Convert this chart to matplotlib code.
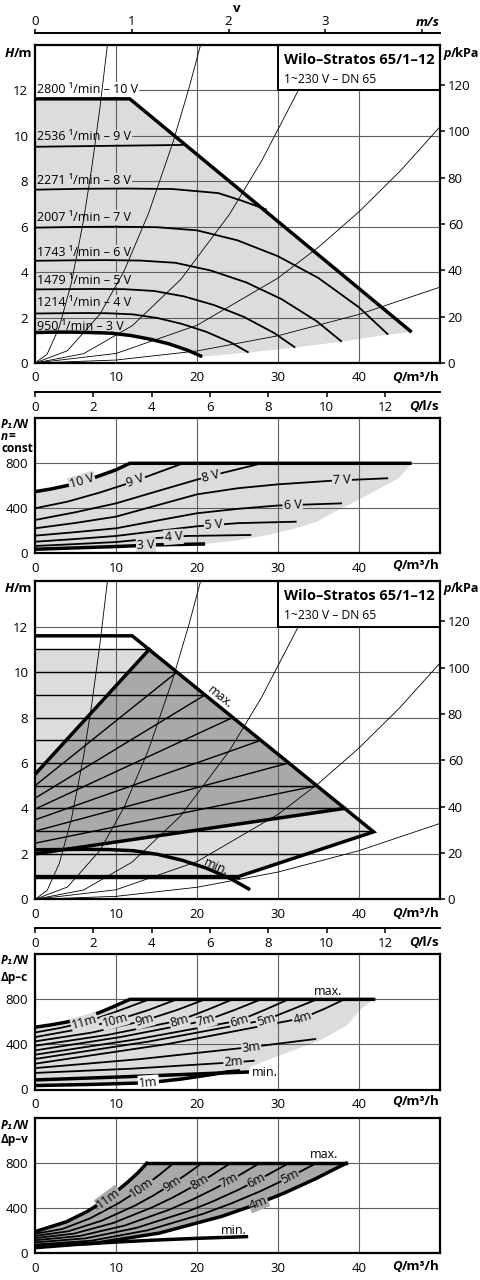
import matplotlib
matplotlib.use("Agg")
import matplotlib.pyplot as plt
import numpy as np
from matplotlib.patches import Polygon, Rectangle

plt.rcParams["font.family"] = ["Open Sans", "DejaVu Sans"]

# ---------------- panel 1: H/m at constant speed (Q in m3/h)
speed_names = ["2800 ¹/min – 10 V", "2536 ¹/min – 9 V", "2271 ¹/min – 8 V", "2007 ¹/min – 7 V",
               "1743 ¹/min – 6 V", "1479 ¹/min – 5 V", "1214 ¹/min – 4 V", "950 ¹/min – 3 V"]
speed_label_h = [12.05, 9.95, 8.02, 6.4, 4.85, 3.65, 2.68, 1.6]

q10 = [0, 11.7, 46.5]
h10 = [11.63, 11.63, 1.36]
q9 = [0, 9, 18.3]
h9 = [9.52, 9.56, 9.6]
q8 = [0, 5.66, 11.32, 16.97, 22.63, 25.5, 28.6]
h8 = [7.63, 7.67, 7.68, 7.66, 7.48, 7.15, 6.75]
q7 = [0, 5, 10, 15, 20, 25, 30, 35, 40, 43.6]
h7 = [5.96, 5.99, 6.0, 5.98, 5.84, 5.4, 4.7, 3.74, 2.45, 1.25]
q6 = [0, 4.34, 8.69, 13.03, 17.37, 21.71, 26.06, 30.4, 34.74, 37.87]
h6 = [4.5, 4.52, 4.53, 4.51, 4.41, 4.07, 3.55, 2.82, 1.85, 0.94]
q5 = [0, 3.68, 7.37, 11.05, 14.74, 18.42, 22.11, 25.79, 29.48, 32.13]
h5 = [3.24, 3.25, 3.26, 3.25, 3.17, 2.93, 2.55, 2.03, 1.33, 0.68]
q4 = [0, 3.02, 6.05, 9.07, 12.1, 15.12, 18.15, 21.17, 24.2, 26.37]
h4 = [2.18, 2.19, 2.2, 2.19, 2.14, 1.98, 1.72, 1.37, 0.9, 0.46]
q3 = [0, 2.37, 4.73, 7.1, 9.47, 11.83, 14.2, 16.57, 18.93, 20.64]
h3 = [1.34, 1.36, 1.36, 1.34, 1.31, 1.21, 1.05, 0.84, 0.55, 0.28]
q_edge = [46.5, 43.6, 37.87, 32.13, 26.37, 20.64]
h_edge = [1.36, 1.25, 0.94, 0.68, 0.46, 0.28]

# system curves (thin)
sysA_q = [0, 1.5, 3, 4.5, 6, 7, 8, 8.94]
sysA_h = [0, 0.39, 1.58, 3.54, 6.3, 8.58, 11.2, 14.0]
sysB_q = [0, 4, 8, 11, 14, 17, 19, 20.44]
sysB_h = [0, 0.54, 2.14, 4.05, 6.57, 9.68, 12.09, 14.0]
sysC_q = [0, 6, 12, 18, 24, 28, 32.5, 35.1]
sysC_h = [0, 0.41, 1.64, 3.68, 6.54, 8.91, 12.0, 14.0]
sysD_q = [0, 10, 20, 30, 35, 40, 45, 50]
sysD_h = [0, 0.42, 1.66, 3.74, 5.1, 6.66, 8.42, 10.4]
sysE_q = [0, 10, 20, 30, 40, 50]
sysE_h = [0, 0.13, 0.53, 1.2, 2.14, 3.34]

# ---------------- panel 2: P1/W at constant speed
pq10 = [0, 2, 4, 6, 8, 10, 11.7, 46.5]
pp10 = [548, 572, 603, 642, 690, 742, 800, 800]
pq9 = [0, 4, 8, 11, 14, 16, 18.3]
pp9 = [400, 459, 540, 610, 687, 740, 800]
pq8 = [0, 5, 10, 15, 20, 23.3, 28]
pp8 = [296, 365, 444, 550, 655, 717, 800]
pq7 = [0, 5, 10, 15, 20, 25, 30, 36.6, 43.6]
pp7 = [222, 270, 326, 425, 524, 578, 613, 645, 667]
pq6 = [0, 5, 10, 15, 20, 25, 30, 37.9]
pp6 = [157, 188, 222, 290, 356, 395, 425, 444]
pq5 = [0, 5, 10, 15, 20, 25, 32.3]
pp5 = [103, 127, 154, 198, 240, 268, 281]
pq4 = [0, 5, 10, 15, 18.7, 26.7]
pp4 = [65, 82, 100, 135, 154, 163]
pq3 = [0, 5, 10, 15, 21]
pp3 = [36, 48, 60, 75, 83]
p2_edge_q = [46.5, 44.9, 42.0, 39.1, 37.0, 34.8, 31.8, 28.8, 25.0, 21.0]
p2_edge_p = [800, 667, 555, 444, 370, 281, 215, 163, 115, 83]
p2_names = ["10 V", "9 V", "8 V", "7 V", "6 V", "5 V", "4 V", "3 V"]
p2_label_q = [5.8, 12.4, 21.7, 37.9, 31.8, 22.1, 17.1, 13.7]

# ---------------- panel 3: H/m, dp-c and dp-v
max_q = [0, 12, 41.8, 25.1, 0]
max_h = [11.6, 11.6, 2.97, 1.0, 1.0]
dpc_h = [1, 2, 3, 4, 5, 6, 7, 8, 9, 10, 11]
dpc_qend = [25.1, 33.7, 41.7, 38.2, 34.8, 31.3, 27.9, 24.4, 21.0, 17.5, 14.1]
dpv_h = [11, 10, 9, 8, 7, 6, 5, 4]
dpv_h0 = [5.5, 5.0, 4.45, 3.97, 3.5, 3.0, 2.47, 2.0]
dpv_qend = [14.1, 17.5, 21.0, 24.4, 27.9, 31.3, 34.8, 38.2]
light_q = [0, 25.1, 41.8, 14.1, 0]
light_h = [1, 1, 2.97, 11, 11]
dark_q = [0, 38.2, 14.1, 0]
dark_h = [2.0, 4.0, 11, 5.5]

# ---------------- panel 4: P1/W, dp-c
c_max_q = [0, 2, 4, 6, 8, 10, 11.7, 41.8]
c_max_p = [553, 574, 600, 636, 684, 745, 800, 800]
c_lines_q = [[0, 3, 6.1, 10, 14.1],
             [0, 5, 9.9, 14, 17.5],
             [0, 7, 13.5, 17.5, 21.0],
             [0, 9, 17.8, 21.2, 24.4],
             [0, 10.5, 21.1, 24.6, 27.9],
             [0, 12.5, 25.2, 28.3, 31.3],
             [0, 14, 28.5, 31.7, 34.8],
             [0, 16.5, 33, 35.7, 38.2],
             [0, 13, 26.7, 34.6],
             [0, 12, 24.5, 27]]
c_lines_p = [[506, 545, 594, 690, 800],
             [465, 530, 612, 705, 800],
             [427, 505, 612, 705, 800],
             [388, 485, 612, 705, 800],
             [347, 465, 612, 705, 800],
             [309, 445, 612, 705, 800],
             [271, 425, 618, 710, 800],
             [229, 405, 633, 715, 800],
             [190, 270, 377, 448],
             [147, 185, 241, 255]]
c_names = ["11m", "10m", "9m", "8m", "7m", "6m", "5m", "4m", "3m", "2m"]
c_label_q = [6.1, 9.9, 13.5, 17.8, 21.1, 25.2, 28.5, 33, 26.7, 24.5]
c_1m_q = [0, 7, 14, 18, 22, 25.1]
c_1m_p = [35, 45, 60, 92, 135, 175]
c_min_q = [0, 10, 20, 26.2]
c_min_p = [85, 110, 138, 155]
p4_edge_q = [26.2, 26.6, 28.6, 31.9, 35.2, 38.5, 40.3, 41.8]
p4_edge_p = [155, 200, 259, 348, 436, 569, 717, 800]

# ---------------- panel 5: P1/W, dp-v
v_lines_q = [[0, 3.9, 6.4, 9.05, 11.5, 12.7, 13.8],
             [0, 3.42, 6.84, 10.26, 11.97, 13.68, 15.39, 17.1],
             [0, 4.12, 8.24, 12.36, 14.42, 16.48, 18.54, 20.6],
             [0, 4.82, 9.64, 14.46, 16.87, 19.28, 21.69, 24.1],
             [0, 5.54, 11.08, 16.62, 19.39, 22.16, 24.93, 27.7],
             [0, 6.26, 12.52, 18.78, 21.91, 25.04, 28.17, 31.3],
             [0, 6.94, 13.88, 20.82, 24.29, 27.76, 31.23, 34.7],
             [0, 7.68, 15.36, 23.04, 26.88, 30.72, 34.56, 38.4]]
v_lines_p = [[192, 281, 370, 489, 636, 715, 800],
             [173, 217, 312, 443, 521, 607, 700, 800],
             [154, 196, 290, 425, 506, 596, 694, 800],
             [135, 175, 269, 408, 491, 585, 688, 800],
             [116, 154, 247, 389, 476, 574, 682, 800],
             [97, 133, 226, 370, 460, 562, 676, 800],
             [78, 112, 204, 352, 445, 550, 669, 800],
             [62, 92, 180, 328, 424, 534, 660, 800]]
v_names = ["11m", "10m", "9m", "8m", "7m", "6m", "5m", "4m"]
v_label_q = [9.05, 13.2, 16.9, 20.3, 24.0, 27.3, 31.5, 27.6]
v_min_q = [0, 5, 10, 15, 20, 26.1]
v_min_p = [50, 78, 100, 118, 133, 148]

W, H = 480, 1280
LIGHT = "#dcdcdd"
DARK = "#a9a9aa"
GRID = "#5f5f5f"
THICK = 2.5
MID = 1.3
FS = 9.5

fig = plt.figure(figsize=(4.8, 12.8), dpi=100)
R = fig.canvas.get_renderer()


def box(x0, ytop, x1, ybot):
    return [x0 / W, 1 - ybot / H, (x1 - x0) / W, (ybot - ytop) / H]


def txt(x, y, s, **kw):
    return fig.text(x / W, 1 - y / H, s, **kw)


def two_part(x, y, a, b, ha="left", size=FS):
    # italic bold symbol + bold unit, baseline at pixel y
    if ha == "left":
        t = txt(x, y, a, style="italic", weight="bold", size=size, va="baseline")
        w = t.get_window_extent(R).width
        txt(x + w, y, b, weight="bold", size=size, va="baseline")
    else:
        t = txt(x, y, b, weight="bold", size=size, va="baseline", ha="right")
        w = t.get_window_extent(R).width
        txt(x - w, y, a, style="italic", weight="bold", size=size, va="baseline", ha="right")


def panel(ytop, ybot, ymax, yticks, grid_y):
    ax = fig.add_axes(box(35, ytop, 440, ybot))
    ax.set_xlim(0, 50)
    ax.set_ylim(0, ymax)
    ax.set_xticks([0, 10, 20, 30, 40])
    ax.set_yticks(yticks)
    ax.tick_params(length=0, labelsize=FS)
    ax.tick_params(axis="y", pad=4.8)
    ax.tick_params(axis="x", pad=6)
    for s in ax.spines.values():
        s.set_linewidth(1.6)
        s.set_zorder(10)
    for q in [10, 20, 30, 40]:
        ax.axvline(q, color=GRID, lw=0.8, zorder=2)
    for y in grid_y:
        ax.axhline(y, color=GRID, lw=0.8, zorder=2)
    return ax


def flow_axis(y):
    a = fig.add_axes(box(35, y - 0.01, 440, y))
    a.patch.set_visible(False)
    for k in ("top", "left", "right"):
        a.spines[k].set_visible(False)
    a.spines["bottom"].set_linewidth(1.4)
    a.set_xlim(0, 50 / 3.6)
    a.set_xticks(range(0, 13, 2))
    a.set_yticks([])
    a.tick_params(axis="x", direction="out", length=3.6, width=1.1, pad=2.8, labelsize=FS)
    two_part(440, y + 18, "Q", "/l/s", ha="right")


def kpa_axis(ax):
    a2 = ax.twinx()
    a2.set_ylim(0, 14 * 9.81)
    a2.set_yticks(range(0, 121, 20))
    a2.tick_params(direction="out", length=3.6, width=1.1, pad=2, labelsize=FS)
    for s in a2.spines.values():
        s.set_visible(False)


def on_line(ax, xs, ys, q, s, fc, size=9, pad=0.8):
    y = np.interp(q, xs, ys)
    p1 = ax.transData.transform((q - 0.6, np.interp(q - 0.6, xs, ys)))
    p2 = ax.transData.transform((q + 0.6, np.interp(q + 0.6, xs, ys)))
    ang = np.degrees(np.arctan2(p2[1] - p1[1], p2[0] - p1[0]))
    ax.text(q, y, s, rotation=ang, rotation_mode="anchor", ha="center", va="center",
            size=size, zorder=6, bbox=dict(fc=fc, ec="none", pad=pad))


def title_box(ax):
    ax.add_patch(Rectangle((30, 12), 20, 2, fc="white", ec="black", lw=1.4, zorder=8))
    ax.text(30.8, 13.35, "Wilo–Stratos 65/1–12", weight="bold", size=10.5, va="center", zorder=9)
    ax.text(30.8, 12.5, "1~230 V – DN 65", size=8.7, va="center", zorder=9)


def system_curves(ax):
    for xs, ys in [(sysA_q, sysA_h), (sysB_q, sysB_h), (sysC_q, sysC_h),
                   (sysD_q, sysD_h), (sysE_q, sysE_h)]:
        ax.plot(xs, ys, color="black", lw=0.6, zorder=7)


# ---------- top velocity axis
va = fig.add_axes(box(35, 33, 440, 33.01))
va.patch.set_visible(False)
for k in ("bottom", "left", "right"):
    va.spines[k].set_visible(False)
va.spines["top"].set_linewidth(1.4)
va.set_xlim(0, 50 / 11.95)
va.set_xticks([0, 1, 2, 3, 4])
va.set_xticklabels(["0", "1", "2", "3", ""])
va.set_yticks([])
va.xaxis.tick_top()
va.tick_params(axis="x", direction="out", length=3, width=1.1, pad=0.5, labelsize=FS)
txt(440, 26, "m/s", style="italic", weight="bold", size=FS, ha="right", va="baseline")
txt(237, 12, "v", weight="bold", size=FS, ha="center", va="baseline")

# ---------- panel 1
ax1 = panel(45, 363, 14, range(0, 13, 2), range(2, 13, 2))
kpa_axis(ax1)
poly1 = list(zip(q10, h10)) + list(zip(q_edge[1:], h_edge[1:])) + list(zip(q3[::-1], h3[::-1]))
ax1.add_patch(Polygon(poly1, closed=True, fc=LIGHT, ec="none", zorder=1))
for i, (s, hy) in enumerate(zip(speed_names, speed_label_h)):
    ax1.text(0.25, hy, s, size=9, va="center", ha="left", zorder=4,
             bbox=dict(fc="white" if i == 0 else LIGHT, ec="none", pad=0.6))
for xs, ys, lw in [(q10, h10, THICK), (q9, h9, MID), (q8, h8, MID), (q7, h7, MID),
                   (q6, h6, MID), (q5, h5, MID), (q4, h4, MID), (q3, h3, THICK)]:
    ax1.plot(xs, ys, color="black", lw=lw, zorder=5, solid_capstyle="butt")
system_curves(ax1)
title_box(ax1)
two_part(5, 57, "H", "/m")
two_part(443, 57, "p", "/kPa", size=9)
two_part(440, 381, "Q", "/m³/h", ha="right")

# ---------- panel 2
flow_axis(391.7)
ax2 = panel(418.3, 553.3, 1200, [0, 400, 800], [400, 800])
poly2 = list(zip(pq10[:-1], pp10[:-1])) + list(zip(p2_edge_q, p2_edge_p)) + list(zip(pq3[::-1], pp3[::-1]))
ax2.add_patch(Polygon(poly2, closed=True, fc=LIGHT, ec="none", zorder=1))
p2_curves = [(pq10, pp10), (pq9, pp9), (pq8, pp8), (pq7, pp7), (pq6, pp6), (pq5, pp5), (pq4, pp4), (pq3, pp3)]
for i, (xs, ys) in enumerate(p2_curves):
    ax2.plot(xs, ys, color="black", lw=THICK if i in (0, 7) else MID, zorder=4, solid_capstyle="butt")
for (xs, ys), s, q in zip(p2_curves, p2_names, p2_label_q):
    on_line(ax2, xs, ys, q, s, LIGHT)
two_part(1, 427.5, "P₁", "/W", size=8.5)
two_part(1, 440, "n", "=", size=8.5)
txt(1, 452.5, "const", weight="bold", size=8.5, va="baseline")
two_part(440, 569, "Q", "/m³/h", ha="right")

# ---------- panel 3
ax3 = panel(581.3, 899.3, 14, range(0, 13, 2), range(2, 13, 2))
kpa_axis(ax3)
ax3.add_patch(Polygon(list(zip(light_q, light_h)), closed=True, fc=LIGHT, ec="none", zorder=1))
ax3.add_patch(Polygon(list(zip(dark_q, dark_h)), closed=True, fc=DARK, ec="none", zorder=1.5))
for hh, qe in zip(dpc_h, dpc_qend):
    ax3.plot([0, qe], [hh, hh], color="black", lw=THICK if hh == 1 else 1.0, zorder=4)
for hh, h0, qe in zip(dpv_h, dpv_h0, dpv_qend):
    ax3.plot([0, qe], [h0, hh], color="black", lw=THICK if hh in (11, 4) else 1.0, zorder=4)
ax3.plot(max_q, max_h, color="black", lw=THICK, zorder=5, solid_joinstyle="miter")
ax3.plot(q4, h4, color="black", lw=THICK, zorder=5)
system_curves(ax3)
title_box(ax3)
pa = ax3.transData.transform((12, 11.6))
pb = ax3.transData.transform((41.8, 2.97))
ang = np.degrees(np.arctan2(pb[1] - pa[1], pb[0] - pa[0]))
ax3.text(22.9, 8.9, "max.", rotation=ang, rotation_mode="anchor", ha="center", va="center", size=9, zorder=6)
ax3.text(22.4, 1.42, "min.", rotation=-24, rotation_mode="anchor", ha="center", va="center", size=9, zorder=6)
two_part(5, 592, "H", "/m")
two_part(443, 592, "p", "/kPa", size=9)
two_part(440, 917, "Q", "/m³/h", ha="right")

# ---------- panel 4
flow_axis(927.7)
ax4 = panel(954.3, 1089.5, 1200, [0, 400, 800], [400, 800])
poly4 = list(zip(c_1m_q, c_1m_p)) + list(zip(p4_edge_q, p4_edge_p)) + list(zip(c_max_q[-2::-1], c_max_p[-2::-1]))
ax4.add_patch(Polygon(poly4, closed=True, fc=LIGHT, ec="none", zorder=1))
ax4.plot(c_max_q, c_max_p, color="black", lw=THICK, zorder=5)
for xs, ys in zip(c_lines_q, c_lines_p):
    ax4.plot(xs, ys, color="black", lw=MID, zorder=4)
ax4.plot(c_1m_q, c_1m_p, color="black", lw=THICK, zorder=4)
ax4.plot(c_min_q, c_min_p, color="black", lw=THICK, zorder=4)
for xs, ys, s, q in zip(c_lines_q, c_lines_p, c_names, c_label_q):
    on_line(ax4, xs, ys, q, s, LIGHT, pad=0.5)
on_line(ax4, c_1m_q, c_1m_p, 14, "1m", "white")
ax4.text(36.2, 870, "max.", ha="center", va="center", size=9, zorder=6)
ax4.text(26.8, 150, "min.", ha="left", va="center", size=9, zorder=6)
two_part(1, 964, "P₁", "/W", size=8.5)
txt(1, 981, "Δp–c", weight="bold", size=8.5, va="baseline")
two_part(440, 1105, "Q", "/m³/h", ha="right")

# ---------- panel 5
ax5 = panel(1118.3, 1253.3, 1200, [0, 400, 800], [400, 800])
poly5 = list(zip(v_lines_q[0], v_lines_p[0])) + list(zip(v_lines_q[-1][::-1], v_lines_p[-1][::-1]))
ax5.add_patch(Polygon(poly5, closed=True, fc=DARK, ec="none", zorder=1))
ax5.plot([v_lines_q[0][-1], v_lines_q[-1][-1]], [800, 800], color="black", lw=THICK, zorder=5)
for i, (xs, ys) in enumerate(zip(v_lines_q, v_lines_p)):
    ax5.plot(xs, ys, color="black", lw=THICK if i in (0, 7) else MID, zorder=4)
ax5.plot(v_min_q, v_min_p, color="black", lw=THICK, zorder=4)
for xs, ys, s, q in zip(v_lines_q, v_lines_p, v_names, v_label_q):
    on_line(ax5, xs, ys, q, s, DARK, pad=0.3)
ax5.text(35.7, 874, "max.", ha="center", va="center", size=9, zorder=6)
ax5.text(24.5, 207, "min.", ha="center", va="center", size=9, zorder=6)
two_part(1, 1129, "P₁", "/W", size=8.5)
txt(1, 1143, "Δp–v", weight="bold", size=8.5, va="baseline")
two_part(440, 1270, "Q", "/m³/h", ha="right")

fig.savefig("out.png", dpi=100)
